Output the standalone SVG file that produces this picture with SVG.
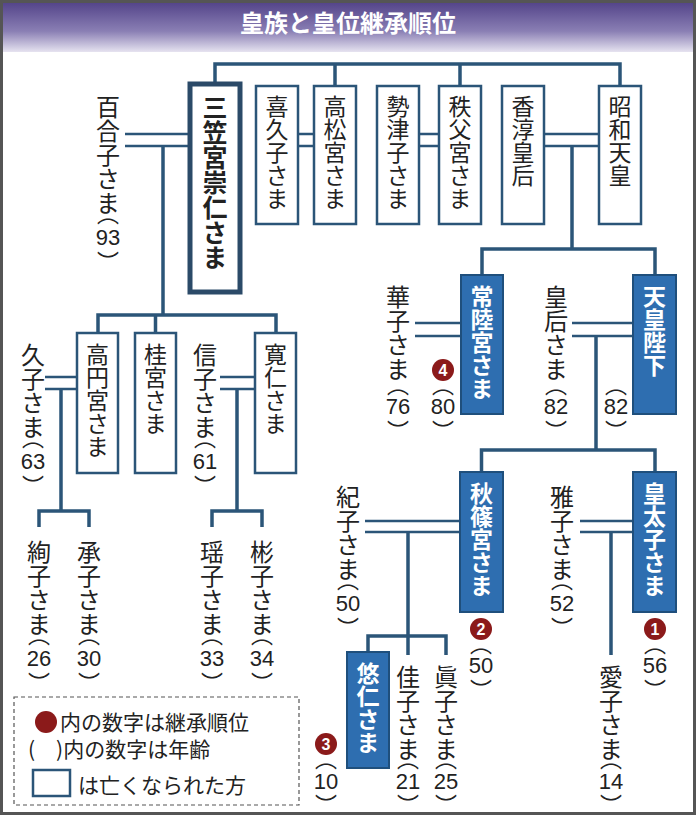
<svg xmlns="http://www.w3.org/2000/svg" width="696" height="817" viewBox="0 0 696 817">
<defs>
<linearGradient id="hd" x1="0" y1="0" x2="0" y2="1">
<stop offset="0" stop-color="#4f3f86"/><stop offset="0.6" stop-color="#8a7fb4"/><stop offset="1" stop-color="#e6e3f0"/>
</linearGradient>
</defs>
<style>
.v{writing-mode:vertical-rl;font-family:"Noto Sans CJK JP",sans-serif;font-size:23px;fill:#222}
.t{font-size:24px}
.b{font-weight:bold}
.w{fill:#fff;font-weight:bold}
.box{fill:#fff;stroke:#2b5578;stroke-width:2.5}
.bb{fill:#2e6eb0;stroke:#1f4f7c;stroke-width:2}
.ln{fill:none;stroke:#2b5578;stroke-width:3.5}
.dl{fill:none;stroke:#2b5578;stroke-width:2.5}
.p{writing-mode:vertical-rl;font-family:"Noto Sans CJK JP",sans-serif;font-size:22px;fill:#222}
.n{font-family:"Liberation Sans",sans-serif;font-size:22px;fill:#222;text-anchor:middle}
.c{fill:#8b1a1a}
.cn{font-family:"Liberation Sans",sans-serif;font-size:16px;font-weight:bold;fill:#fff;text-anchor:middle}
.lg{font-family:"Noto Sans CJK JP",sans-serif;font-size:21px;fill:#222}
</style>
<rect x="0" y="0" width="696" height="817" fill="#fff"/>
<rect x="0" y="0" width="696" height="52" fill="url(#hd)"/>
<text x="348" y="32" text-anchor="middle" font-family="Noto Sans CJK JP,sans-serif" font-size="24" font-weight="bold" fill="#fff">皇族と皇位継承順位</text>
<rect x="1.5" y="1.5" width="693" height="812" fill="none" stroke="#555" stroke-width="3"/>

<g id="connectors">
<path class="ln" d="M215 84V64H620V86M335 64V86M460 64V86"/>
<path class="dl" d="M298 134H314M298 146H314M419 134H439M419 146H439M544 134H599M544 146H599M125 134H190M125 146H190"/>
<path class="ln" d="M163 146V315M98 333V315H276V333M155.5 315V333"/>
<path class="ln" d="M572 146V249M482 275V249H655V275"/>
<path class="dl" d="M415 323H461M415 336H461M572 323H633M572 336H633"/>
<path class="ln" d="M596 336V450M481.5 472V450H655V472"/>
<path class="dl" d="M45 377H77M45 389H77M220 377H255M220 389H255"/>
<path class="ln" d="M61 389V511M39 527V511H89V527M237 389V511M212 527V511H262V527"/>
<path class="dl" d="M365 521H460M365 532H460M580 521H633M580 532H633"/>
<path class="ln" d="M408 532V655M368 652V636H446V655M611 532V655"/>
</g>

<g id="mikasa"><rect x="190" y="84" width="50" height="208" fill="#fff" stroke="#2b4a68" stroke-width="5"/><text class="v b" x="215" y="95" style="font-size:25px">三笠宮崇仁さま</text></g>
<g id="kikuko"><rect class="box" x="256" y="86" width="42" height="138"/><text class="v" x="277" y="95">喜久子さま</text></g>
<g id="takamatsu"><rect class="box" x="314" y="86" width="42" height="138"/><text class="v" x="335" y="95">高松宮さま</text></g>
<g id="setsuko"><rect class="box" x="377" y="86" width="42" height="138"/><text class="v" x="398" y="95">勢津子さま</text></g>
<g id="chichibu"><rect class="box" x="439" y="86" width="42" height="138"/><text class="v" x="460" y="95">秩父宮さま</text></g>
<g id="kojun"><rect class="box" x="502" y="86" width="42" height="138"/><text class="v" x="523" y="95">香淳皇后</text></g>
<g id="showa"><rect class="box" x="599" y="86" width="42" height="138"/><text class="v" x="620" y="95">昭和天皇</text></g>

<g id="yuriko"><text class="v t" x="108" y="95">百合子さま</text><text class="p" x="108" y="203">（</text><text class="n" x="108" y="245">93</text><text class="p" x="108" y="251">）</text></g>

<g id="takamado"><rect class="box" x="77" y="333" width="41" height="140"/><text class="v" x="97.5" y="343">高円宮さま</text></g>
<g id="katsura"><rect class="box" x="135" y="333" width="41" height="140"/><text class="v" x="155.5" y="343">桂宮さま</text></g>
<g id="tomohito"><rect class="box" x="255" y="333" width="41" height="140"/><text class="v" x="275.5" y="343">寛仁さま</text></g>
<g id="hisako"><text class="v t" x="33" y="343">久子さま</text><text class="p" x="33" y="427">（</text><text class="n" x="33" y="469">63</text><text class="p" x="33" y="475">）</text></g>
<g id="nobuko"><text class="v t" x="205" y="343">信子さま</text><text class="p" x="205" y="427">（</text><text class="n" x="205" y="469">61</text><text class="p" x="205" y="475">）</text></g>
<g id="ayako"><text class="v t" x="39" y="540">絢子さま</text><text class="p" x="39" y="624">（</text><text class="n" x="39" y="666">26</text><text class="p" x="39" y="672">）</text></g>
<g id="tsuguko"><text class="v t" x="89" y="540">承子さま</text><text class="p" x="89" y="624">（</text><text class="n" x="89" y="666">30</text><text class="p" x="89" y="672">）</text></g>
<g id="yoko"><text class="v t" x="212" y="540">瑶子さま</text><text class="p" x="212" y="624">（</text><text class="n" x="212" y="666">33</text><text class="p" x="212" y="672">）</text></g>
<g id="akiko"><text class="v t" x="262" y="540">彬子さま</text><text class="p" x="262" y="624">（</text><text class="n" x="262" y="666">34</text><text class="p" x="262" y="672">）</text></g>

<g id="hitachi"><rect class="bb" x="461" y="275" width="42" height="139"/><text class="v w" x="482" y="285">常陸宮さま</text><circle class="c" cx="443" cy="370" r="11"/><text class="cn" x="443" y="376">4</text><text class="p" x="443" y="374">（</text><text class="n" x="443" y="414">80</text><text class="p" x="443" y="420">）</text></g>
<g id="hanako"><text class="v t" x="398" y="285">華子さま</text><text class="p" x="398" y="374">（</text><text class="n" x="398" y="414">76</text><text class="p" x="398" y="420">）</text></g>
<g id="tenno"><rect class="bb" x="633" y="275" width="43" height="139"/><text class="v w" x="654.5" y="285">天皇陛下</text><text class="p" x="616" y="374">（</text><text class="n" x="616" y="414">82</text><text class="p" x="616" y="420">）</text></g>
<g id="kogo"><text class="v t" x="556" y="285">皇后さま</text><text class="p" x="556" y="374">（</text><text class="n" x="556" y="414">82</text><text class="p" x="556" y="420">）</text></g>

<g id="akishino"><rect class="bb" x="460" y="472" width="43" height="140"/><text class="v w" x="481.5" y="482">秋篠宮さま</text><circle class="c" cx="481" cy="629" r="11"/><text class="cn" x="481" y="635">2</text><text class="p" x="481" y="633">（</text><text class="n" x="481" y="673">50</text><text class="p" x="481" y="679">）</text></g>
<g id="kiko"><text class="v t" x="348" y="485">紀子さま</text><text class="p" x="348" y="569">（</text><text class="n" x="348" y="611">50</text><text class="p" x="348" y="617">）</text></g>
<g id="kotaishi"><rect class="bb" x="633" y="472" width="43" height="140"/><text class="v w" x="654.5" y="482">皇太子さま</text><circle class="c" cx="655" cy="629" r="11"/><text class="cn" x="655" y="635">1</text><text class="p" x="655" y="633">（</text><text class="n" x="655" y="673">56</text><text class="p" x="655" y="679">）</text></g>
<g id="masako"><text class="v t" x="562" y="485">雅子さま</text><text class="p" x="562" y="569">（</text><text class="n" x="562" y="611">52</text><text class="p" x="562" y="617">）</text></g>

<g id="hisahito"><rect class="bb" x="347" y="652" width="42" height="116"/><text class="v w" x="368" y="662">悠仁さま</text><circle class="c" cx="326" cy="744" r="11"/><text class="cn" x="326" y="750">3</text><text class="p" x="326" y="748">（</text><text class="n" x="326" y="789">10</text><text class="p" x="326" y="794">）</text></g>
<g id="kako"><text class="v t" x="408" y="665">佳子さま</text><text class="p" x="408" y="748">（</text><text class="n" x="408" y="789">21</text><text class="p" x="408" y="794">）</text></g>
<g id="mako"><text class="v t" x="446" y="665">眞子さま</text><text class="p" x="446" y="748">（</text><text class="n" x="446" y="789">25</text><text class="p" x="446" y="794">）</text></g>
<g id="aiko"><text class="v t" x="611" y="665">愛子さま</text><text class="p" x="611" y="748">（</text><text class="n" x="611" y="789">14</text><text class="p" x="611" y="794">）</text></g>

<g id="legend">
<rect x="14" y="697" width="285" height="108" fill="#fff" stroke="#555" stroke-width="1.2" stroke-dasharray="4 3"/>
<circle class="c" cx="46" cy="722" r="11"/>
<text class="lg" x="60" y="730">内の数字は継承順位</text>
<text class="lg" x="28" y="757">(　)内の数字は年齢</text>
<rect class="box" x="33" y="770" width="37" height="26"/>
<text class="lg" x="78" y="793">は亡くなられた方</text>
</g>
</svg>
